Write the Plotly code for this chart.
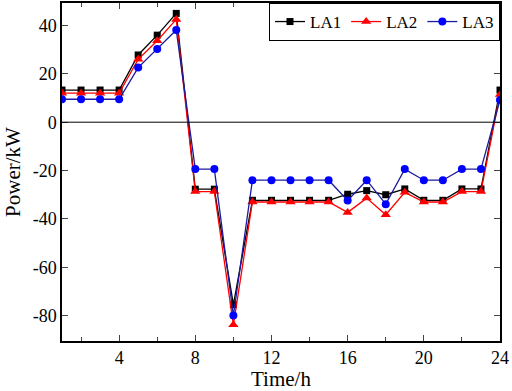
import plotly.graph_objects as go

hours = list(range(1, 25))
la1 = [13.3, 13.3, 13.3, 13.3, 27.8, 36, 45, -27.7, -27.7, -75.5, -32.3, -32.3, -32.3, -32.3, -32.3,
       -29.8, -28.3, -30, -27.6, -32.3, -32.3, -27.6, -27.6, 13.3]
la2 = [12, 12, 12, 12, 26, 33.7, 42.5, -28.7, -28.7, -83.8, -33, -33, -33, -33, -33,
       -37.3, -31.4, -38.3, -29, -33, -33, -28.7, -28.7, 11.5]
la3 = [9.5, 9.5, 9.5, 9.5, 22.6, 30.3, 38.1, -19.4, -19.4, -80, -24, -24, -24, -24, -24,
       -32.4, -24, -33.9, -19.4, -24, -24, -19.4, -19.4, 9.2]

x_ticks = [4, 8, 12, 16, 20, 24]
y_ticks = [-80, -60, -40, -20, 0, 20, 40]
y_tick_labels = ["-80", "-60", "-40", "-20", "0", "20", "40"]

font = "Liberation Serif, Times New Roman, serif"

fig = go.Figure()
fig.add_trace(go.Scatter(x=hours, y=la1, name="LA1", mode="lines+markers",
                         line=dict(color="black", width=1.3),
                         marker=dict(symbol="square", size=7, color="black")))
fig.add_trace(go.Scatter(x=hours, y=la2, name="LA2", mode="lines+markers",
                         line=dict(color="red", width=1.3),
                         marker=dict(symbol="triangle-up", size=9, color="red")))
fig.add_trace(go.Scatter(x=hours, y=la3, name="LA3", mode="lines+markers",
                         line=dict(color="#1a1aa0", width=1.3),
                         marker=dict(symbol="circle", size=8, color="blue")))

fig.add_hline(y=0, line=dict(color="black", width=1))

fig.update_layout(
    width=512, height=391,
    margin=dict(l=62, r=12, t=3, b=50),
    paper_bgcolor="white", plot_bgcolor="white",
    font=dict(family=font, size=18, color="black"),
    showlegend=True,
    legend=dict(orientation="h", x=1, y=1, xanchor="right", yanchor="top",
                bordercolor="black", borderwidth=1, bgcolor="white",
                font=dict(size=17), itemwidth=30, tracegroupgap=0),
    xaxis=dict(range=[1, 24], tickvals=x_ticks, ticks="inside", ticklen=6,
               showline=True, linecolor="black", linewidth=1.5, mirror="ticks",
               showgrid=False, zeroline=False, automargin=False,
               minor=dict(dtick=2, tick0=0, ticks="inside", ticklen=4),
               title=dict(text="Time/h", font=dict(size=21), standoff=2)),
    yaxis=dict(range=[-90.5, 49.3], tickvals=y_ticks, ticktext=y_tick_labels,
               ticks="inside", ticklen=6,
               showline=True, linecolor="black", linewidth=1.5, mirror="ticks",
               showgrid=False, zeroline=False, automargin=False,
               title=dict(text="Power/kW", font=dict(size=21), standoff=6)),
)

fig.write_html("out.html", config={"displayModeBar": False},
               post_script="document.body.style.margin='0';document.body.style.padding='0';")
